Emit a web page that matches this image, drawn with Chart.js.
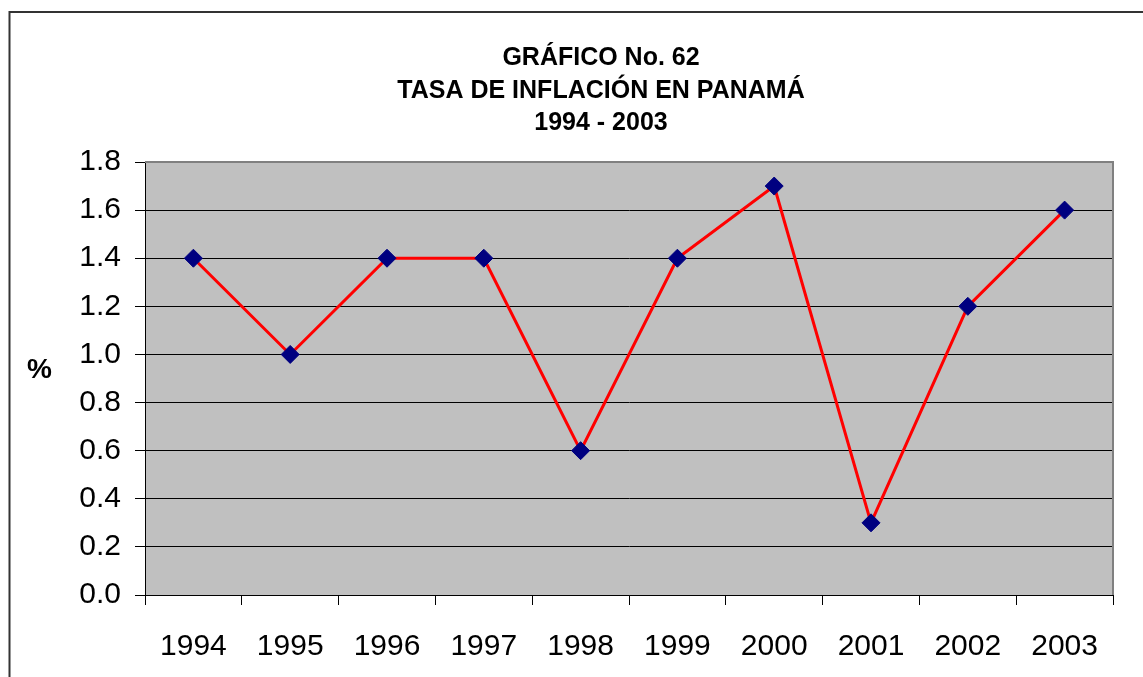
<!DOCTYPE html>
<html>
<head>
<meta charset="utf-8">
<script src="https://cdn.jsdelivr.net/npm/chart.js@4/dist/chart.umd.min.js"></script>
<style>
html,body{margin:0;padding:0;background:#fff;}
#c{display:block;}
</style>
</head>
<body>
<canvas id="c" width="1143" height="677"></canvas>
<script>
const years = ['1994','1995','1996','1997','1998','1999','2000','2001','2002','2003'];
const inflation = [1.4, 1.0, 1.4, 1.4, 0.6, 1.4, 1.7, 0.3, 1.2, 1.6];
const titleLines = ['GRÁFICO No. 62', 'TASA DE INFLACIÓN EN PANAMÁ', '1994 - 2003'];
const yAxisLabel = '%';

const FONT = "'Liberation Sans', Arial, sans-serif";

const decor = {
  id: 'decor',
  beforeDraw(chart) {
    const ctx = chart.ctx, a = chart.chartArea;
    ctx.save();
    ctx.fillStyle = '#fff';
    ctx.fillRect(0, 0, chart.width, chart.height);
    ctx.fillStyle = '#C0C0C0';
    ctx.fillRect(a.left, a.top, a.right - a.left, a.bottom - a.top);
    ctx.restore();
  },
  beforeDatasetsDraw(chart) {
    const ctx = chart.ctx, a = chart.chartArea;
    ctx.save();
    ctx.strokeStyle = '#808080';
    ctx.lineWidth = 2;
    ctx.beginPath();
    ctx.moveTo(a.left, a.top);
    ctx.lineTo(a.right, a.top);
    ctx.lineTo(a.right, a.bottom);
    ctx.stroke();
    ctx.restore();
  },
  afterDraw(chart) {
    const ctx = chart.ctx;
    ctx.save();
    // outer frame
    ctx.strokeStyle = '#333';
    ctx.lineWidth = 2;
    ctx.beginPath();
    ctx.moveTo(9.5, 700);
    ctx.lineTo(9.5, 12);
    ctx.lineTo(1200, 12);
    ctx.stroke();
    // title
    ctx.fillStyle = '#000';
    ctx.textAlign = 'center';
    ctx.textBaseline = 'alphabetic';
    ctx.font = 'bold 25px ' + FONT;
    const ys = [65, 98, 130];
    titleLines.forEach((t, i) => ctx.fillText(t, 601, ys[i]));
    // y axis label
    ctx.font = 'bold 28px ' + FONT;
    ctx.fillText(yAxisLabel, 39.5, 378);
    ctx.restore();
  }
};

new Chart(document.getElementById('c'), {
  type: 'line',
  data: {
    labels: years,
    datasets: [{
      data: inflation,
      borderColor: '#FF0000',
      borderWidth: 3,
      tension: 0,
      pointStyle: 'rectRot',
      pointRadius: 9,
      pointHoverRadius: 9,
      pointBackgroundColor: '#000080',
      pointBorderColor: '#000080',
      pointBorderWidth: 1,
      clip: false
    }]
  },
  options: {
    responsive: false,
    animation: false,
    events: [],
    layout: { padding: { left: 0, top: 162, right: 30, bottom: 0 } },
    plugins: { legend: { display: false }, title: { display: false }, tooltip: { enabled: false } },
    scales: {
      x: {
        type: 'category',
        offset: true,
        afterFit(s) { s.height = 82; },
        grid: { offset: true, drawOnChartArea: false, color: '#000', tickLength: 10, lineWidth: 1 },
        border: { color: '#000', width: 1 },
        ticks: { color: '#000', font: { family: FONT, size: 30 }, padding: 24, maxRotation: 0, autoSkip: false }
      },
      y: {
        min: 0, max: 1.8,
        afterFit(s) { s.width = 145; },
        grid: { color: '#000', tickLength: 10, lineWidth: 1 },
        border: { color: '#000', width: 1 },
        ticks: {
          stepSize: 0.2, color: '#000', padding: 14,
          font: { family: FONT, size: 30 },
          callback: v => Number(v).toFixed(1)
        }
      }
    }
  },
  plugins: [decor]
});
</script>
</body>
</html>
